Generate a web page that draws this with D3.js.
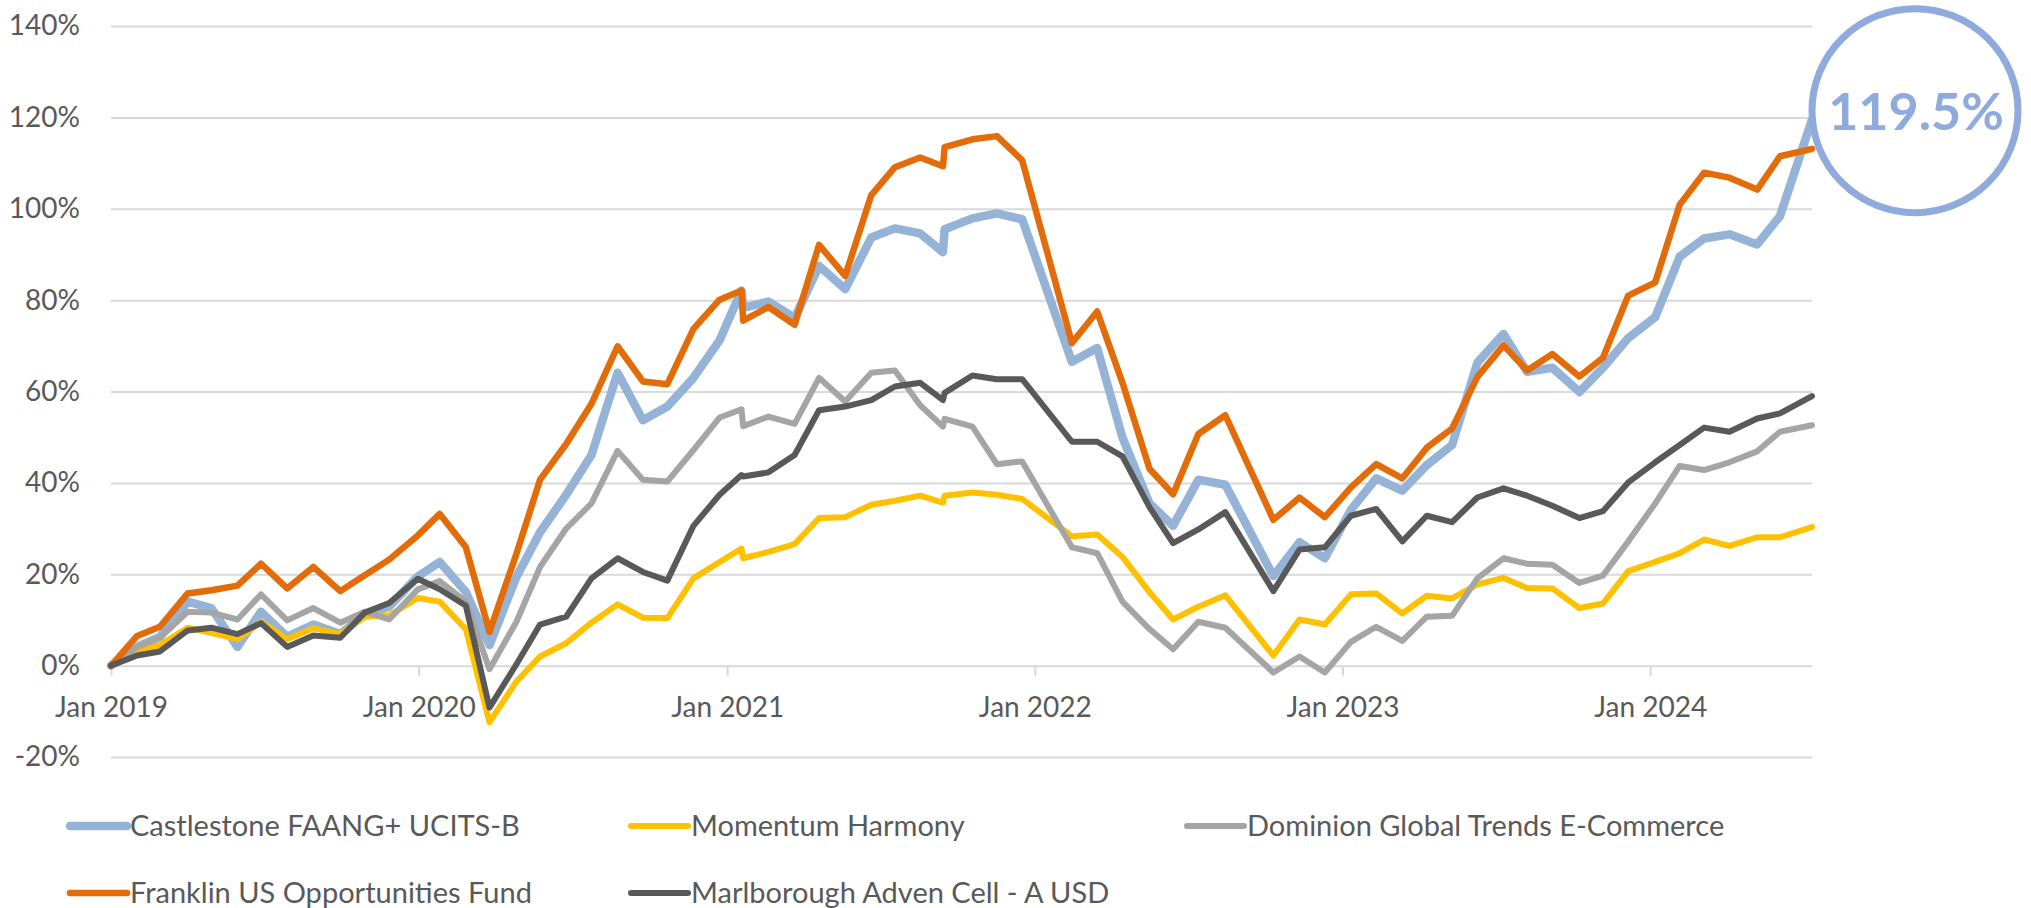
<!DOCTYPE html>
<html>
<head>
<meta charset="utf-8">
<script src="https://cdn.jsdelivr.net/npm/d3@7"></script>
<style>
  body { margin: 0; background: #fff; }
  text { font-family: Lato, "Open Sans", sans-serif; fill: #595959; }
</style>
</head>
<body>
<script>
// dates of the data points (fund price dates)
var dates = [
  "2019-01-01","2019-02-01","2019-02-28","2019-04-02","2019-04-30","2019-05-31","2019-06-28","2019-07-29","2019-08-29","2019-09-30","2019-10-29","2019-11-27","2019-12-31",
  "2020-01-26","2020-02-26","2020-03-25","2020-04-26","2020-05-24","2020-06-24","2020-07-24","2020-08-24","2020-09-23","2020-10-22","2020-11-22","2020-12-23",
  "2021-01-18","2021-01-20","2021-02-19","2021-03-22","2021-04-20","2021-05-21","2021-06-21","2021-07-19","2021-08-18","2021-09-14","2021-09-16","2021-10-19","2021-11-17","2021-12-17",
  "2022-02-14","2022-03-16","2022-04-15","2022-05-17","2022-06-14","2022-07-14","2022-08-15",
  "2022-10-11","2022-11-11","2022-12-11","2023-01-11","2023-02-10","2023-03-13","2023-04-11","2023-05-11","2023-06-10","2023-07-11","2023-08-08","2023-09-07","2023-10-09","2023-11-06","2023-12-06",
  "2024-01-07","2024-02-05","2024-03-05","2024-04-04","2024-05-07","2024-06-03","2024-07-11"
];

// cumulative return in %
var castlestone = [0,4.1,6.3,14,12.6,4.1,11.8,6.3,9,6.9,11.2,12.9,19.5,
  22.7,16.1,4.5,19.4,29.2,37.4,46.1,64.1,53.7,56.7,63,71.2,
  82.1,78.3,79.7,76.1,87.5,82.4,93.7,95.7,94.6,90.5,95.5,97.9,99,97.7,
  66.5,69.5,49.9,35.5,30.6,40.7,39.6,
  19.6,27,23.5,34.1,41,38.3,43.9,48.3,66.3,72.6,64.3,65.2,59.9,65.2,71.7,
  76.3,89.5,93.5,94.4,92.2,98.4,119.5];
var momentum = [0,3,4.5,8.3,7.2,5.8,9.6,5.8,8.2,6.9,10.7,11,14.8,
  14,8,-12.4,-3.5,2,4.9,9.4,13.4,10.5,10.4,19.1,22.7,
  25.6,23.5,24.9,26.6,32.3,32.5,35.2,36.1,37.2,35.7,37.2,37.9,37.4,36.5,
  28.3,28.7,23.8,16.1,10.1,12.9,15.4,
  2.2,10.1,9,15.6,15.8,11.4,15.3,14.7,17.8,19.2,17,16.9,12.6,13.6,20.7,
  22.7,24.6,27.6,26.2,28.1,28.1,30.3];
var dominion = [0,4.1,6.1,11.8,11.6,10.1,15.6,9.9,12.6,9.4,11.8,10.1,16.7,
  18.5,14,-0.8,9.6,21.6,30,35.5,47,40.7,40.3,47.2,54.3,
  56.1,52.4,54.5,52.9,63,57.8,64.1,64.6,57,52.3,54,52.3,44.1,44.7,
  25.9,24.6,14,8,3.6,9.6,8.3,
  -1.5,2,-1.5,5.2,8.5,5.4,10.7,10.9,19.1,23.5,22.3,22.1,18.1,19.7,27.2,
  35.5,43.7,42.8,44.5,46.9,51.2,52.6];
var franklin = [0,6.5,8.5,15.8,16.5,17.5,22.3,16.9,21.6,16.3,19.8,23.2,28.5,
  33.2,25.9,7.4,24.5,40.7,48.5,57.3,69.9,62.2,61.6,73.7,80.1,
  82.1,75.5,78.5,74.6,92.1,85.3,103,109.1,111.2,109.3,113.5,115.2,115.9,110.6,
  70.6,77.5,61.9,43.1,37.5,50.7,54.8,
  31.9,36.8,32.5,39,44.1,41,47.7,51.9,63.2,70.1,64.6,68.2,63.3,67.4,81,
  83.9,100.9,107.9,106.8,104.2,111.5,113.1];
var marlborough = [0,2.2,3.1,7.7,8.3,6.9,9.3,4.1,6.6,6.1,11.6,13.7,19,
  16.7,13.1,-9.2,0.3,9,10.7,19.1,23.5,20.5,18.6,30.6,37.4,
  41.7,41.4,42.3,46.1,55.9,56.7,58.1,61.1,61.9,58.1,59.7,63.5,62.7,62.7,
  49,49,45.8,34.7,26.8,29.8,33.6,
  16.3,25.4,25.9,32.8,34.3,27.2,32.8,31.4,36.8,38.8,37.2,35,32.3,33.8,40.1,
  44.5,48.3,52.1,51.2,54.1,55.2,59];

var seriesNames = ["Castlestone FAANG+ UCITS-B", "Momentum Harmony", "Dominion Global Trends E-Commerce",
                   "Franklin US Opportunities Fund", "Marlborough Adven Cell - A USD"];
var seriesValues = [castlestone, momentum, dominion, franklin, marlborough];
var seriesColors = ["#95b3d7", "#ffc000", "#a5a5a5", "#e36c09", "#595959"];
var seriesWidths = [8.5, 6, 6, 6.5, 6];

var yTicks = [-20, 0, 20, 40, 60, 80, 100, 120, 140];
var xTicks = ["2019-01-01","2020-01-01","2021-01-01","2022-01-01","2023-01-01","2024-01-01"];
var highlight = "119.5%";

var width = 2031,
    height = 908,
    margin = {left: 111, right: 219, top: 26, bottom: 151};

var parse = d3.timeParse("%Y-%m-%d");
var dateObjs = dates.map(parse);

var x = d3.scaleTime()
    .domain(d3.extent(dateObjs))
    .range([margin.left, width - margin.right]);

var y = d3.scaleLinear()
    .domain([-20, 140])
    .range([height - margin.bottom, margin.top]);

var svg = d3.select("body").append("svg")
    .attr("width", width)
    .attr("height", height);

// gridlines + y labels
var yAxis = svg.append("g")
    .attr("transform", "translate(" + margin.left + ",0)")
    .call(d3.axisLeft(y)
      .tickValues(yTicks)
      .tickSize(-(width - margin.left - margin.right))
      .tickPadding(31)
      .tickFormat(function(d) { return d + "%"; }));
yAxis.select(".domain").remove();
yAxis.selectAll("line").attr("stroke", "#d9d9d9").attr("stroke-width", 2);
yAxis.selectAll("text").style("font-size", "28px").attr("fill", "#595959");

// x axis on the 0% line
var xAxis = svg.append("g")
    .attr("transform", "translate(0," + y(0) + ")")
    .call(d3.axisBottom(x)
      .tickValues(xTicks.map(parse))
      .tickSize(10)
      .tickPadding(21)
      .tickFormat(d3.timeFormat("%b %Y")));
xAxis.select(".domain").remove();
xAxis.selectAll("line").attr("stroke", "#d9d9d9").attr("stroke-width", 2);
xAxis.selectAll("text").style("font-size", "28px").attr("fill", "#595959");

var line = d3.line()
    .x(function(d, i) { return x(dateObjs[i]); })
    .y(function(d) { return y(d); });

svg.selectAll(".series")
    .data(seriesValues)
  .enter().append("path")
    .attr("class", "series")
    .attr("d", line)
    .attr("fill", "none")
    .attr("stroke", function(d, i) { return seriesColors[i]; })
    .attr("stroke-width", function(d, i) { return seriesWidths[i]; })
    .attr("stroke-linejoin", "round")
    .attr("stroke-linecap", "round");

// callout circle at the end of Castlestone
var lastX = x(dateObjs[dateObjs.length - 1]),
    lastY = y(castlestone[castlestone.length - 1]);
svg.append("ellipse")
    .attr("cx", lastX + 103)
    .attr("cy", lastY - 9)
    .attr("rx", 103)
    .attr("ry", 102)
    .attr("fill", "none")
    .attr("stroke", "#8faadc")
    .attr("stroke-width", 7);
svg.append("text")
    .attr("x", lastX + 104)
    .attr("y", lastY + 10)
    .attr("text-anchor", "middle")
    .style("font-size", "52px")
    .style("font-weight", "bold")
    .style("fill", "#8faadc")
    .text(highlight);

// legend, 3 per row
var legendCols = [70, 631, 1187],
    legendRows = [826, 893];
var lg = svg.selectAll(".legend")
    .data(seriesNames)
  .enter().append("g")
    .attr("class", "legend")
    .attr("transform", function(d, i) {
      return "translate(" + legendCols[i % 3] + "," + legendRows[Math.floor(i / 3)] + ")";
    });
lg.append("line")
    .attr("x1", 0).attr("x2", 57)
    .attr("stroke", function(d, i) { return seriesColors[i]; })
    .attr("stroke-width", function(d, i) { return seriesWidths[i]; })
    .attr("stroke-linecap", "round");
lg.append("text")
    .attr("x", 60)
    .attr("dy", "0.35em")
    .style("font-size", "29px")
    .text(function(d) { return d; });
</script>
</body>
</html>
